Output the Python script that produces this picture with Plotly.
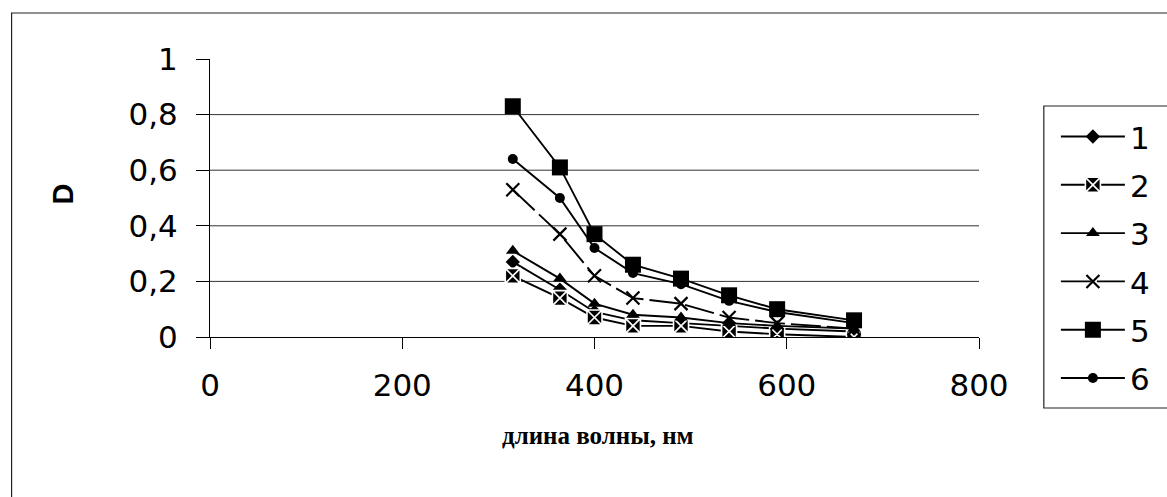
import plotly.graph_objects as go

wavelength = [315, 364, 400, 440, 490, 540, 590, 670]
series_names = ["1", "2", "3", "4", "5", "6"]
d1 = [0.27, 0.17, 0.09, 0.06, 0.05, 0.04, 0.03, 0.02]
d2 = [0.22, 0.14, 0.07, 0.04, 0.04, 0.02, 0.01, 0.00]
d3 = [0.31, 0.21, 0.12, 0.08, 0.07, 0.05, 0.04, 0.03]
d4 = [0.53, 0.37, 0.22, 0.14, 0.12, 0.07, 0.05, 0.03]
d5 = [0.83, 0.61, 0.37, 0.26, 0.21, 0.15, 0.10, 0.06]
d6 = [0.64, 0.50, 0.32, 0.23, 0.19, 0.13, 0.09, 0.05]
grid_values = [0.2, 0.4, 0.6, 0.8]
x_ticks = [0, 200, 400, 600, 800]
y_ticks = [0, 0.2, 0.4, 0.6, 0.8, 1]

series = [d1, d2, d3, d4, d5, d6]
styles = [
    dict(symbol="diamond", size=11, color="black", line=dict(color="black", width=0)),
    dict(symbol="square-x", size=15, color="black", line=dict(color="white", width=1.6)),
    dict(symbol="triangle-up", size=12, color="black", line=dict(color="black", width=0)),
    dict(symbol="x-thin-open", size=13, color="black", line=dict(color="black", width=2.2)),
    dict(symbol="square", size=16, color="black", line=dict(color="black", width=0)),
    dict(symbol="circle", size=10, color="black", line=dict(color="black", width=0)),
]
dashes = ["solid", "solid", "solid", "30px,6px", "solid", "solid"]

fig = go.Figure()
for name, vals, mk, ds in zip(series_names, series, styles, dashes):
    fig.add_trace(go.Scatter(
        x=wavelength, y=vals, name=name, mode="lines+markers",
        line=dict(color="black", width=1.9, dash=ds),
        marker=mk, legendgroup=name,
    ))

shapes = []
for g in grid_values:
    shapes.append(dict(type="line", xref="paper", yref="y", x0=0, x1=1, y0=g, y1=g,
                       line=dict(color="#333", width=1), layer="below"))
# outer chart frame
shapes.append(dict(type="rect", xref="paper", yref="paper", x0=-0.258, x1=1.25,
                   y0=-0.7, y1=1.1655, line=dict(color="#222", width=1.2)))
# legend frame
shapes.append(dict(type="rect", xref="paper", yref="paper", x0=1.0843, x1=1.25,
                   y0=-0.2554, y1=0.831, line=dict(color="#222", width=1.2)))

font_sans = "DejaVu Sans, Arial, sans-serif"

fig.update_layout(
    width=1167, height=497,
    margin=dict(l=210, r=186, t=59, b=160),
    paper_bgcolor="white", plot_bgcolor="white",
    separators=", ",
    showlegend=True,
    legend=dict(x=1.1, y=0.817, xanchor="left", yanchor="top",
                font=dict(family=font_sans, size=31, color="black"),
                bgcolor="rgba(0,0,0,0)", borderwidth=0, maxheight=420,
                itemwidth=64, tracegroupgap=5, traceorder="grouped"),
    xaxis=dict(range=[0, 800], tickvals=x_ticks, showgrid=False, zeroline=False,
               showline=True, linecolor="black", linewidth=1,
               ticks="outside", ticklen=11, tickcolor="black",
               tickfont=dict(family=font_sans, size=31, color="black"),
               ticklabelstandoff=10),
    yaxis=dict(range=[0, 1], tickvals=y_ticks, showgrid=False, zeroline=False,
               showline=True, linecolor="black", linewidth=1,
               ticks="outside", ticklen=13, tickcolor="black",
               tickfont=dict(family=font_sans, size=31, color="black"),
               ticklabelstandoff=12),
    shapes=shapes,
    annotations=[
        dict(text="<b>D</b>", xref="paper", yref="paper", x=-0.1907, y=0.514,
             xanchor="center", yanchor="middle",
             showarrow=False, textangle=-90,
             font=dict(family="Liberation Sans, Arial, sans-serif", size=29, color="black")),
        dict(text="<b>длина волны, нм</b>", xref="paper", yref="paper", x=0.5045, y=-0.356,
             xanchor="center", yanchor="middle",
             showarrow=False,
             font=dict(family="Liberation Serif, Times New Roman, serif", size=25, color="black")),
    ],
)

fig.write_html("out.html", post_script="document.body.style.margin='0';",
               config={"displayModeBar": False})
